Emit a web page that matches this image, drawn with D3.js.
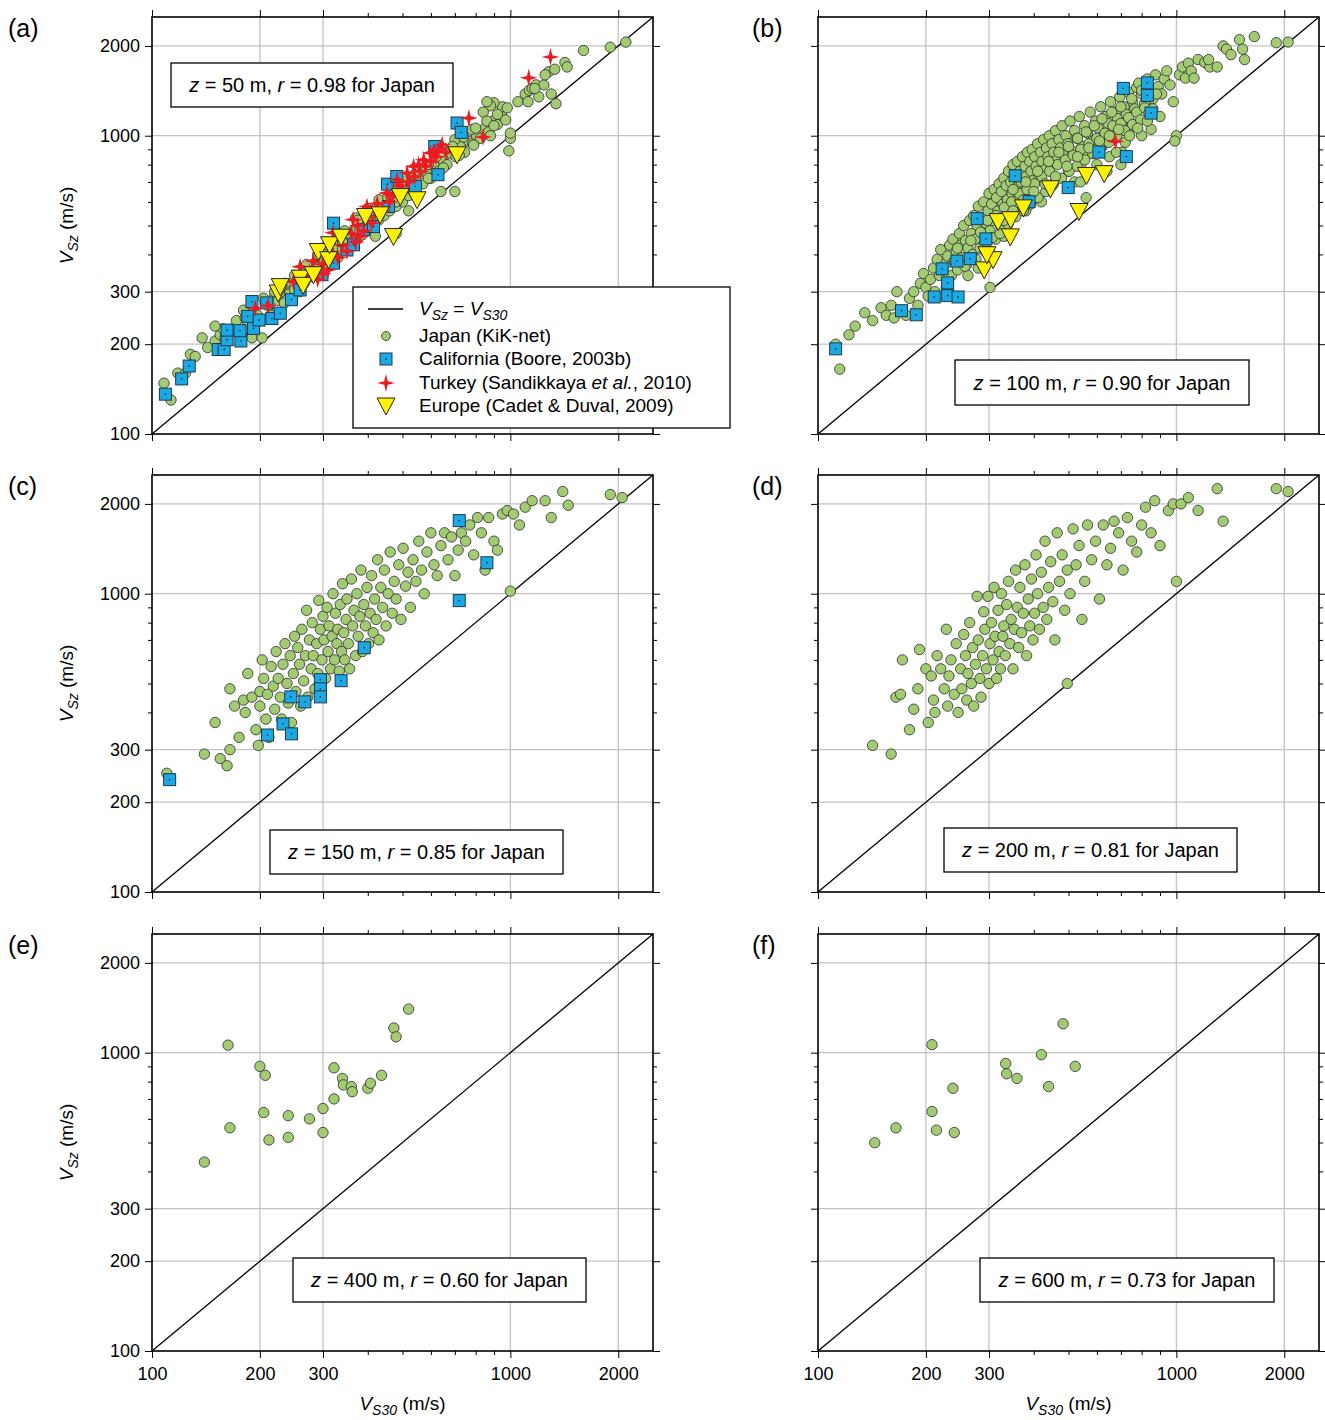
<!DOCTYPE html>
<html>
<head>
<meta charset="utf-8">
<script src="https://cdn.jsdelivr.net/npm/d3@7"></script>
<style>
  body { margin: 0; background: #fff; }
  svg { font-family: "Liberation Sans", Arial, sans-serif; }
</style>
</head>
<body>
<svg id="chart" width="1325" height="1420"></svg>
<script>
"use strict"

// tick values
var majorTicks = [100, 200, 300, 1000, 2000];
var gridTicks = [200, 300, 1000, 2000];
var minorTicks = [400, 500, 600, 700, 800, 900];

// panel captions
var panelLetters = ["(a)", "(b)", "(c)", "(d)", "(e)", "(f)"];
var panelDepths = [50, 100, 150, 200, 400, 600];
var panelR = ["0.98", "0.90", "0.85", "0.81", "0.60", "0.73"];

// ---- data: [VS30, VSz] in m/s ----
var japanA = [[108,148],[113,130],[118,160],[124,160],[128,185],[132,182],[138,210],[143,195],[150,205],[155,215],[160,210],[168,225],[172,240],[178,215],[182,245],[185,232],[190,210],[192,260],[197,250],[203,210],[207,275],[212,268],[215,250],[220,290],[225,280],[230,300],[234,275],[238,310],[242,295],[246,320],[250,305],[255,330],[258,300],[262,345],[266,320],[270,355],[274,335],[278,365],[282,345],[286,375],[290,360],[295,390],[300,350],[305,400],[310,380],[315,415],[320,395],[325,425],[330,390],[335,440],[340,415],[345,455],[350,420],[356,470],[362,440],[368,485],[374,450],[380,500],[386,465],[392,515],[398,480],[405,530],[412,500],[420,550],[428,520],[436,570],[444,540],[452,590],[460,560],[470,610],[480,580],[490,640],[500,600],[510,660],[520,630],[532,690],[545,650],[558,720],[570,690],[585,750],[600,720],[615,790],[630,760],[648,830],[665,800],[685,870],[705,850],[725,920],[745,880],[765,960],[785,940],[805,1000],[825,980],[850,1060],[870,1030],[895,1120],[920,1090],[945,1170],[970,1130],[990,890],[1000,980],[1100,1380],[1130,1420],[1150,1440],[1180,1480],[1200,1350],[1240,1480],[1300,1380],[1340,1280],[1280,1640],[1330,1670],[1420,1760],[1440,1700],[1600,1930],[1900,1980],[2100,2060],[1000,1020],[950,1250],[900,1290],[880,1260],[860,1300],[840,1200],[780,1050],[700,970],[660,900],[620,850],[560,770],[510,720],[470,670],[430,610],[400,570],[370,530],[330,470],[300,420],[270,370],[250,340],[235,320],[220,300],[205,285],[180,260],[158,225],[150,230],[420,460],[520,560],[640,650],[700,650],[480,470],[290,400],[310,430],[345,480],[375,520],[410,560],[455,620],[495,680],[540,740],[590,800],[640,880],[690,920],[740,990],[800,1060],[860,1120],[920,1180],[980,1240],[340,440],[380,480],[430,540],[480,600],[530,660],[590,720],[650,780],[720,860],[790,930],[880,1000],[900,1080],[1050,1300],[1120,1300],[1250,1600],[1170,1440]];
var japanB = [[112,200],[115,165],[122,215],[127,230],[135,255],[142,240],[150,265],[155,250],[160,270],[163,245],[166,300],[170,260],[176,250],[180,285],[185,300],[190,270],[193,320],[197,345],[200,310],[203,290],[206,330],[210,360],[212,300],[215,385],[218,340],[220,415],[223,355],[226,370],[228,310],[230,395],[233,430],[236,340],[238,450],[240,380],[243,410],[245,355],[248,470],[250,430],[252,390],[255,500],[258,445],[260,370],[262,420],[265,520],[268,470],[270,400],[272,540],[275,450],[278,500],[280,580],[283,420],[285,530],[288,470],[290,600],[293,510],[295,440],[298,560],[300,640],[302,480],[305,590],[308,520],[310,660],[313,450],[315,620],[318,560],[320,690],[323,500],[325,650],[328,590],[330,720],[333,530],[335,680],[338,610],[340,760],[343,560],[345,700],[348,640],[350,800],[353,590],[355,730],[358,670],[360,820],[363,620],[366,760],[369,700],[372,850],[375,650],[378,790],[381,730],[384,880],[387,680],[390,820],[393,760],[396,900],[400,710],[403,850],[406,790],[410,940],[414,740],[418,880],[422,820],[426,970],[430,770],[434,910],[438,850],[442,1000],[446,800],[450,940],[455,880],[460,1040],[465,830],[470,970],[475,910],[480,1080],[486,860],[492,1000],[498,940],[505,1120],[512,890],[520,1040],[528,980],[536,1160],[545,920],[555,1080],[565,1020],[575,1200],[585,960],[595,1120],[605,1060],[615,1250],[625,1000],[635,1160],[645,1100],[655,1300],[665,1040],[675,1200],[685,1140],[695,1350],[705,880],[715,1250],[725,1180],[735,1400],[745,1100],[755,1300],[765,1230],[775,1450],[785,1500],[800,1380],[815,1280],[830,1550],[845,1420],[860,1330],[875,1600],[890,1460],[900,1160],[910,1380],[925,1550],[940,1650],[960,1480],[980,1300],[1000,1000],[990,960],[1020,1600],[1040,1700],[1060,1560],[1080,1750],[1100,1650],[1150,1800],[1200,1760],[1240,1700],[1300,1700],[1350,2000],[1380,1950],[1500,2100],[1530,1950],[1550,1800],[1650,2150],[1900,2050],[2050,2060],[540,800],[520,700],[600,900],[700,800],[650,850],[720,950],[800,1000],[850,1050],[420,600],[380,560],[330,460],[300,410],[280,360],[262,340],[390,610],[450,680],[500,760],[560,860],[620,920],[680,1000],[740,1060],[560,620],[302,310],
    [245,420],[257,365],[267,445],[276,385],[284,475],[292,410],[297,520],[306,455],[314,540],[322,470],[331,575],[339,505],[347,600],[356,535],[365,640],[374,560],[383,660],[392,590],[402,690],[411,620],[421,730],[432,650],[443,760],[454,690],[466,800],[478,720],[490,830],[502,760],[515,860],[528,790],[541,900],[555,830],[570,940],[585,870],[600,980],[616,910],[632,1020],[648,950],[665,1080],[682,1000],[700,1100],[718,1040],[736,1150],[755,1090],[775,1200],[795,1130],[816,1240],[838,1190],[860,1230],[880,1380],[1120,1560],[1230,1800],[1420,1870],[330,520],[350,560],[375,610],[400,650],[430,690],[460,730],[495,790],[530,850],[570,910],[610,960],[650,1000],[690,1050],[740,1000],[780,1060],[830,1120],[350,660],[380,700],[410,760],[440,820],[470,880],[500,920],[530,980],[560,1030],[590,1080],[620,1140],[660,1200],[700,1250],[750,1330],[800,1420],[600,800],[640,760],[680,880],[540,700]];
var japanC = [[110,250],[140,290],[150,370],[155,280],[162,265],[165,300],[165,480],[170,420],[175,330],[180,440],[182,400],[185,540],[190,450],[195,350],[198,310],[200,470],[200,420],[203,600],[205,520],[208,380],[210,460],[212,330],[215,570],[218,490],[220,410],[222,640],[225,520],[228,450],[230,380],[232,580],[235,680],[238,500],[240,430],[243,620],[245,370],[248,540],[250,720],[252,470],[255,660],[258,580],[260,420],[262,760],[265,510],[268,620],[270,880],[272,450],[275,700],[278,560],[280,800],[282,620],[285,480],[288,680],[290,540],[292,950],[295,760],[298,600],[300,840],[302,700],[305,520],[308,900],[310,640],[312,780],[315,560],[318,720],[320,1000],[323,600],[325,860],[328,680],[330,760],[333,550],[335,920],[338,640],[340,1080],[343,740],[345,600],[348,820],[350,960],[353,680],[356,560],[360,1120],[363,780],[366,880],[370,620],[373,1000],[376,720],[380,840],[383,1200],[387,640],[390,920],[394,780],[398,1050],[402,680],[406,860],[410,1150],[414,740],[418,960],[422,820],[426,1300],[430,700],[435,1050],[440,900],[445,1200],[450,780],[456,1000],[462,1380],[468,860],[474,1100],[480,960],[488,1250],[495,820],[502,1420],[510,1060],[518,1180],[526,900],[535,1300],[545,1100],[555,1500],[565,1200],[575,1000],[585,1380],[600,1600],[612,1250],[625,1150],[640,1450],[655,1600],[670,1300],[685,1550],[700,1150],[715,1400],[730,1600],[750,1500],[770,1700],[790,1350],[810,1800],[830,1600],[850,1200],[870,1800],[900,1500],[920,1400],[950,1850],[980,1900],[1000,1020],[1020,1850],[1060,1700],[1100,1950],[1150,2050],[1250,2050],[1300,1800],[1400,2200],[1450,1980],[1900,2150],[2050,2100]];
var japanD = [[142,310],[160,290],[165,450],[170,460],[172,600],[180,350],[185,410],[190,480],[192,650],[200,560],[203,370],[207,530],[210,440],[212,400],[215,620],[220,560],[225,480],[228,760],[230,420],[232,530],[235,600],[240,460],[243,680],[246,400],[250,560],[252,480],[255,730],[258,620],[260,440],[262,540],[265,800],[268,500],[270,660],[272,420],[275,580],[278,980],[280,700],[283,520],[285,450],[288,620],[290,870],[292,760],[295,560],[298,980],[300,500],[302,680],[305,800],[308,600],[310,1050],[312,720],[315,520],[318,880],[320,640],[323,560],[325,1000],[328,720],[330,780],[333,620],[336,920],[340,1100],[343,680],[346,820],[350,560],[353,760],[356,1200],[360,900],[363,660],[366,1050],[370,740],[374,860],[378,1250],[382,620],[386,960],[390,780],[394,1120],[398,700],[402,860],[406,1350],[410,1000],[415,760],[420,1180],[425,900],[430,1500],[435,820],[440,1050],[446,1280],[452,940],[458,700],[465,1600],[472,1100],[480,1350],[488,880],[496,1200],[505,1000],[515,1650],[525,1250],[535,1450],[545,820],[555,1100],[565,1700],[580,1300],[595,1500],[610,960],[625,1700],[640,1250],[655,1420],[670,1750],[690,1600],[710,1200],[730,1800],[750,1500],[775,1380],[800,1700],[820,1950],[850,1600],[870,2050],[900,1450],[950,1900],[980,2000],[1000,1100],[1030,2000],[1080,2100],[1150,1900],[1300,2250],[1350,1750],[1900,2250],[2050,2200],[496,500]];
var japanE = [[163,1060],[200,900],[207,840],[322,890],[165,560],[140,430],[205,630],[212,510],[240,615],[240,520],[275,600],[300,650],[300,540],[322,700],[340,820],[342,780],[360,770],[362,740],[400,760],[407,790],[437,840],[473,1210],[480,1130],[520,1400]];
var japanF = [[144,499],[165,560],[208,1064],[208,635],[214,550],[238,760],[240,540],[334,920],[336,850],[359,820],[420,985],[440,770],[483,1250],[522,900]];

var califA = [[109,136],[121,153],[127,169],[153,192],[159,192],[162,207],[162,223],[177,205],[176,222],[192,226],[185,248],[199,241],[190,278],[209,275],[216,244],[228,254],[245,282],[259,304],[298,342],[321,374],[321,509],[350,414],[365,431],[389,484],[415,496],[457,579],[454,688],[482,730],[543,676],[615,920],[628,740],[710,1103],[729,1026]];
var califB = [[112,193],[171,259],[188,251],[211,288],[230,291],[246,288],[230,321],[222,358],[244,380],[266,387],[294,451],[278,527],[388,601],[355,734],[499,670],[608,881],[725,851],[711,1441],[830,1503],[830,1365],[850,1191]];
var califC = [[112,238],[210,336],[232,366],[245,339],[244,451],[267,434],[295,515],[295,480],[295,451],[337,511],[391,659],[720,1758],[720,948],[860,1270]];

var turkeyA = [[194,264],[211,269],[248,324],[259,364],[282,380],[290,330],[300,345],[310,355],[320,473],[330,390],[350,410],[364,523],[370,440],[380,460],[390,480],[398,579],[410,510],[425,592],[440,560],[452,642],[460,600],[483,711],[500,660],[515,750],[520,700],[537,789],[560,760],[573,830],[580,790],[598,875],[620,850],[645,933],[660,880],[766,1146],[839,990],[1125,1563],[1294,1836],[270,330],[275,350],[300,370],[320,400],[340,430],[360,470],[375,500],[400,540],[420,560],[470,630],[490,680],[540,730],[555,800],[600,820],[610,880],[630,900]];
var turkeyB = [[676,957]];

var europeA = [[225,297],[228,312],[259,333],[264,315],[282,342],[291,409],[311,384],[313,431],[337,457],[394,536],[433,543],[472,459],[493,625],[549,610],[710,863]];
var europeB = [[291,355],[308,384],[296,399],[344,458],[318,515],[345,523],[374,573],[445,664],[535,557],[561,736],[629,746]];

var panels = [
    {japan: japanA, calif: califA, turkey: turkeyA, europe: europeA, box: [171, 63, 282, 44]},
    {japan: japanB, calif: califB, turkey: turkeyB, europe: europeB, box: [955, 360, 294, 45]},
    {japan: japanC, calif: califC, turkey: [], europe: [], box: [270, 830, 293, 44]},
    {japan: japanD, calif: [], turkey: [], europe: [], box: [944, 828, 293, 44]},
    {japan: japanE, calif: [], turkey: [], europe: [], box: [293, 1258, 293, 44]},
    {japan: japanF, calif: [], turkey: [], europe: [], box: [980, 1258, 294, 44]}
];

var colX = [152, 818];
var rowBottom = [434, 892, 1351];
var plotW = 501, plotH = 417;

var svg = d3.select("#chart");

// 4-point star path for Turkey
function star4(r, ri) {
    var pts = [];
    for (var i = 0; i < 8; i++) {
        var a = i * Math.PI / 4 - Math.PI / 2;
        var rr = (i % 2 === 0) ? r : ri;
        pts.push([rr * Math.cos(a), rr * Math.sin(a)]);
    }
    return "M" + pts.map(function(p){ return p.join(","); }).join("L") + "Z";
}

function drawJapan(g, x, y, data, r) {
    g.selectAll("circle.jp").data(data).enter().append("circle")
        .attr("class", "jp")
        .attr("cx", function(d){ return x(d[0]); })
        .attr("cy", function(d){ return y(d[1]); })
        .attr("r", r)
        .attr("fill", "#a3cc72")
        .attr("stroke", "#2b2b2b")
        .attr("stroke-width", 0.8);
}

function drawCalif(g, x, y, data) {
    var s = g.selectAll("g.ca").data(data).enter().append("g")
        .attr("class", "ca")
        .attr("transform", function(d){ return "translate(" + x(d[0]) + "," + y(d[1]) + ")"; });
    s.append("rect").attr("x", -6).attr("y", -6).attr("width", 12).attr("height", 12)
        .attr("fill", "#1ca8e2").attr("stroke", "#1b3b4e").attr("stroke-width", 1);
    s.append("rect").attr("x", -0.6).attr("y", -0.6).attr("width", 1.2).attr("height", 1.2)
        .attr("fill", "#000");
}

function drawTurkey(g, x, y, data) {
    g.selectAll("path.tr").data(data).enter().append("path")
        .attr("class", "tr")
        .attr("d", star4(9, 2.6))
        .attr("transform", function(d){ return "translate(" + x(d[0]) + "," + y(d[1]) + ")"; })
        .attr("fill", "#ec1c24");
}

function drawEurope(g, x, y, data) {
    g.selectAll("path.eu").data(data).enter().append("path")
        .attr("class", "eu")
        .attr("d", "M-9,-8L9,-8L0,9Z")
        .attr("transform", function(d){ return "translate(" + x(d[0]) + "," + y(d[1]) + ")"; })
        .attr("fill", "#fff200")
        .attr("stroke", "#222")
        .attr("stroke-width", 1);
}

panels.forEach(function(p, i) {
    var col = i % 2, row = Math.floor(i / 2);
    var x0 = colX[col], yb = rowBottom[row], yt = yb - plotH;
    var x = d3.scaleLog().domain([100, 2500]).range([x0, x0 + plotW]);
    var y = d3.scaleLog().domain([100, 2500]).range([yb, yt]);
    var g = svg.append("g");

    // grid
    g.selectAll("line.gx").data(gridTicks).enter().append("line")
        .attr("x1", function(d){ return x(d); }).attr("x2", function(d){ return x(d); })
        .attr("y1", yt).attr("y2", yb).attr("stroke", "#c4c4c4").attr("stroke-width", 1.3);
    g.selectAll("line.gy").data(gridTicks).enter().append("line")
        .attr("y1", function(d){ return y(d); }).attr("y2", function(d){ return y(d); })
        .attr("x1", x0).attr("x2", x0 + plotW).attr("stroke", "#c4c4c4").attr("stroke-width", 1.3);

    // axes on all four sides, ticks outward
    var showX = row === 2, showY = col === 0;
    function fmt(d){ return majorTicks.indexOf(d) >= 0 ? d : ""; }
    var allTicks = majorTicks.concat(minorTicks);
    [["bottom", yb, d3.axisBottom, showX], ["top", yt, d3.axisTop, false]].forEach(function(a) {
        var ax = g.append("g").attr("transform", "translate(0," + a[1] + ")")
            .call(a[2](x).tickValues(allTicks).tickSize(6).tickSizeOuter(0)
                .tickFormat(a[3] ? fmt : function(){ return ""; }));
        ax.selectAll(".tick line").attr("y2", function(d){
            var s = majorTicks.indexOf(d) >= 0 ? 7 : 4; return a[0] === "bottom" ? s : -s; });
        ax.select(".domain").remove();
        ax.selectAll("text").style("font-size", "18px").attr("dy", "1.1em");
    });
    [["left", x0, d3.axisLeft, showY], ["right", x0 + plotW, d3.axisRight, false]].forEach(function(a) {
        var ax = g.append("g").attr("transform", "translate(" + a[1] + ",0)")
            .call(a[2](y).tickValues(allTicks).tickSize(6).tickSizeOuter(0)
                .tickFormat(a[3] ? fmt : function(){ return ""; }));
        ax.selectAll(".tick line").attr("x2", function(d){
            var s = majorTicks.indexOf(d) >= 0 ? 7 : 4; return a[0] === "left" ? -s : s; });
        ax.select(".domain").remove();
        ax.selectAll("text").style("font-size", "18px").attr("x", -12);
    });

    // 1:1 line
    g.append("line")
        .attr("x1", x(100)).attr("y1", y(100)).attr("x2", x(2500)).attr("y2", y(2500))
        .attr("stroke", "#000").attr("stroke-width", 1.3);

    drawJapan(g, x, y, p.japan, 5.2);
    drawCalif(g, x, y, p.calif);
    drawTurkey(g, x, y, p.turkey);
    drawEurope(g, x, y, p.europe);

    // frame
    g.append("rect").attr("x", x0).attr("y", yt).attr("width", plotW).attr("height", plotH)
        .attr("fill", "none").attr("stroke", "#000").attr("stroke-width", 1.6);

    // panel letter
    svg.append("text").attr("x", col === 0 ? 8 : 752).attr("y", yt + 20)
        .style("font-size", "25px").text(panelLetters[i]);

    // annotation box
    var b = p.box;
    g.append("rect").attr("x", b[0]).attr("y", b[1]).attr("width", b[2]).attr("height", b[3])
        .attr("fill", "#fff").attr("stroke", "#000").attr("stroke-width", 1.3);
    var t = g.append("text").attr("x", b[0] + b[2] / 2).attr("y", b[1] + b[3] / 2 + 7)
        .attr("text-anchor", "middle").style("font-size", "20px");
    t.append("tspan").style("font-style", "italic").text("z");
    t.append("tspan").text(" = " + panelDepths[i] + " m, ");
    t.append("tspan").style("font-style", "italic").text("r");
    t.append("tspan").text(" = " + panelR[i] + " for Japan");

    // axis titles
    if (showY) {
        var yl = svg.append("text")
            .attr("transform", "translate(73," + (yt + plotH / 2) + ") rotate(-90)")
            .attr("text-anchor", "middle").style("font-size", "19px");
        yl.append("tspan").style("font-style", "italic").text("V");
        yl.append("tspan").style("font-style", "italic").style("font-size", "14px").attr("dy", 5).text("Sz");
        yl.append("tspan").attr("dy", -5).text(" (m/s)");
    }
    if (showX) {
        var xl = svg.append("text").attr("x", x0 + plotW / 2).attr("y", 1410)
            .attr("text-anchor", "middle").style("font-size", "19px");
        xl.append("tspan").style("font-style", "italic").text("V");
        xl.append("tspan").style("font-style", "italic").style("font-size", "14px").attr("dy", 5).text("S30");
        xl.append("tspan").attr("dy", -5).text(" (m/s)");
    }
});

// legend in panel (a)
var lg = svg.append("g").attr("transform", "translate(353,287)");
lg.append("rect").attr("width", 377).attr("height", 141)
    .attr("fill", "#fff").attr("stroke", "#000").attr("stroke-width", 1.3);
var rowsY = [22, 49, 72, 96, 119];
lg.append("line").attr("x1", 15).attr("x2", 50).attr("y1", rowsY[0]).attr("y2", rowsY[0])
    .attr("stroke", "#000").attr("stroke-width", 1.3);
var lt = lg.append("text").attr("x", 66).attr("y", rowsY[0] + 6).style("font-size", "19px");
lt.append("tspan").style("font-style", "italic").text("V");
lt.append("tspan").style("font-style", "italic").style("font-size", "14px").attr("dy", 5).text("Sz");
lt.append("tspan").attr("dy", -5).text(" = ");
lt.append("tspan").style("font-style", "italic").text("V");
lt.append("tspan").style("font-style", "italic").style("font-size", "14px").attr("dy", 5).text("S30");
var lx = d3.scaleLinear().domain([0, 1]).range([33, 33]);
drawJapan(lg, lx, function(){ return rowsY[1]; }, [[0, 0]], 4.5);
drawCalif(lg, lx, function(){ return rowsY[2]; }, [[0, 0]]);
drawTurkey(lg, lx, function(){ return rowsY[3]; }, [[0, 0]]);
drawEurope(lg, lx, function(){ return rowsY[4]; }, [[0, 0]]);
var legendLabels = [
    [["Japan (KiK-net)", false]],
    [["California (Boore, 2003b)", false]],
    [["Turkey (Sandikkaya ", false], ["et al.", true], [", 2010)", false]],
    [["Europe (Cadet & Duval, 2009)", false]]
];
legendLabels.forEach(function(parts, k) {
    var tx = lg.append("text").attr("x", 66).attr("y", rowsY[k + 1] + 6).style("font-size", "19px");
    parts.forEach(function(pt) {
        tx.append("tspan").style("font-style", pt[1] ? "italic" : "normal").text(pt[0]);
    });
});
</script>
</body>
</html>
